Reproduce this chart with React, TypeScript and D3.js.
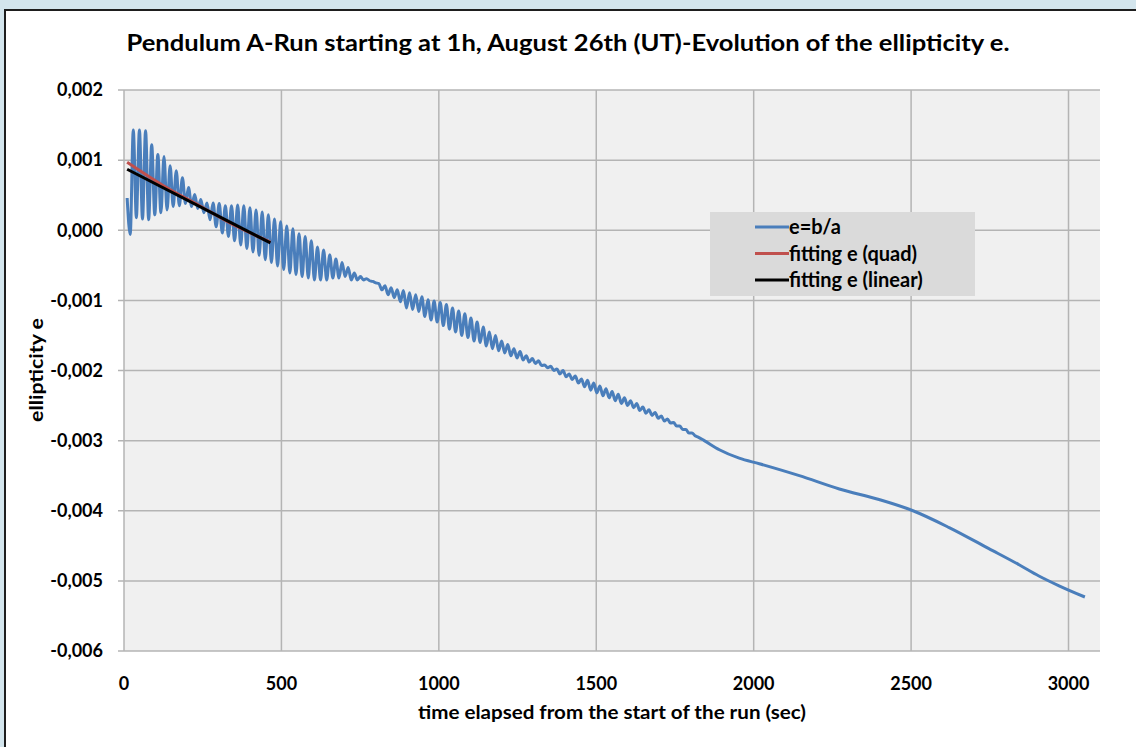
import React from 'react';
import * as d3 from 'd3';

const W = 1136;
const H = 747;

// e = b/a read every half swing (~9.75 s) from t = 10 s, in units of 1e-5
const oscStart = 10;
const oscStep = 9.75;
const oscE = [
  46, -6, 143, 18, 143, 16, 142, 15, 122, 22, 108, 25, 105, 29, 92, 34, 85, 35, 75, 38,
  61, 34, 51, 31, 44, 25, 39, 15, 39, 5, 38, -4, 35, -9, 35, -15, 36, -21, 35, -26,
  32, -31, 29, -36, 26, -42, 22, -46, 16, -51, 12, -56, 6, -61, 2, -63, -5, -66, -9, -68,
  -15, -71, -24, -71, -28, -71, -35, -68, -41, -68, -46, -66, -53, -71, -61, -71, -66, -71, -69, -72,
  -73, -75, -76, -85, -79, -92, -82, -96, -85, -102, -86, -111, -89, -113, -92, -116, -95, -123, -99, -128,
  -101, -131, -103, -136, -106, -141, -111, -145, -115, -150, -119, -153, -125, -158, -131, -160, -138, -165, -145, -169,
  -150, -172, -158, -175, -163, -179, -169, -182, -173, -185, -179, -188, -183, -190, -186, -193, -192, -196, -194, -200,
  -198, -205, -200, -209, -205, -213, -208, -218, -212, -223, -214, -228, -218, -232, -222, -236, -226, -239, -230, -243,
  -234, -247, -239, -250, -243, -253, -247, -257, -252, -261, -256, -264, -260, -268, -265, -272, -269, -275, -274, -279,
  -279, -284, -284, -289, -289, -293, -295,
];

// smoother second half of the run: time (sec) and e (1e-5)
const tailT = [1843, 1891, 1954, 2018, 2145, 2272, 2398, 2506, 2621, 2747, 2843, 2906, 2970, 3052];
const tailE = [-300, -313, -325, -333, -350, -369, -384, -400, -424, -454, -477, -493, -507, -523];

// fits over the first 465 s
const quadT = [10, 120, 240, 360, 465];
const quadE = [0.00097, 0.00065, 0.00035, 0.00005, -0.00017];
const linT = [10, 465];
const linE = [0.00087, -0.00018];

const xTicks = [0, 500, 1000, 1500, 2000, 2500, 3000];
const yTicks = [0.002, 0.001, 0, -0.001, -0.002, -0.003, -0.004, -0.005, -0.006];

const legendNames = ['e=b/a', 'fitting e (quad)', 'fitting e (linear)'];
const colors = ['#4a7ebb', '#c0504d', '#000000'];

const font = 'Lato, "Open Sans", sans-serif';

const locale = d3.formatLocale({ decimal: ',', thousands: '.', grouping: [3], currency: ['', ''], minus: '-' });
const fmtY = locale.format('.3f');

type Pt = [number, number];

export default function App() {
  const left = 124, right = 1100, top = 90, bottom = 651;
  const x = d3.scaleLinear().domain([0, 3100]).range([left, right]);
  const y = d3.scaleLinear().domain([-0.006, 0.002]).range([bottom, top]);

  const blue: Pt[] = oscE.map((v, i) => [oscStart + i * oscStep, v * 1e-5] as Pt)
    .concat(tailT.map((t, i) => [t, tailE[i] * 1e-5] as Pt));
  const quad: Pt[] = quadT.map((t, i) => [t, quadE[i]]);
  const lin: Pt[] = linT.map((t, i) => [t, linE[i]]);

  const line = d3.line<Pt>().x(d => x(d[0])).y(d => y(d[1])).curve(d3.curveMonotoneX);

  return (
    <div style={{ position: 'fixed', left: 0, top: 0 }}>
      <svg width={W} height={H} style={{ display: 'block' }}>
        <rect x={0} y={0} width={W} height={H} fill="#d3e5ed" />
        <rect x={5} y={10} width={W + 20} height={H + 20} fill="#ffffff" stroke="#1e1e1e" strokeWidth={2} />

        <text x={568} y={51} textAnchor="middle" fontFamily={font} fontWeight="bold" fontSize={23}
          textLength={883} lengthAdjust="spacingAndGlyphs" fill="#000">
          Pendulum A-Run starting at 1h, August 26th (UT)-Evolution of the ellipticity e.
        </text>

        <rect x={left} y={top} width={right - left} height={bottom - top} fill="#f0f0f0" />

        {yTicks.map(t => (
          <g key={'y' + t}>
            <line x1={left - 6} x2={right} y1={y(t)} y2={y(t)} stroke="#b4b4b4" strokeWidth={1.5} />
            <text x={103} y={y(t)} dy="0.35em" textAnchor="end" fontFamily={font} fontWeight="bold" fontSize={18}>
              {fmtY(t)}
            </text>
          </g>
        ))}
        {xTicks.map(t => (
          <g key={'x' + t}>
            <line x1={x(t)} x2={x(t)} y1={top} y2={bottom} stroke="#b4b4b4" strokeWidth={1.5} />
            <text x={x(t)} y={690} textAnchor="middle" fontFamily={font} fontWeight="bold" fontSize={18}>
              {t}
            </text>
          </g>
        ))}

        <path d={line(blue) ?? ''} fill="none" stroke={colors[0]} strokeWidth={3} strokeLinejoin="round" />
        <path d={line(quad) ?? ''} fill="none" stroke={colors[1]} strokeWidth={3} />
        <path d={line(lin) ?? ''} fill="none" stroke={colors[2]} strokeWidth={3} />

        <text x={612} y={719} textAnchor="middle" fontFamily={font} fontWeight="bold" fontSize={19}
          textLength={388} lengthAdjust="spacingAndGlyphs">
          time elapsed from the start of the run (sec)
        </text>
        <text transform="translate(43,370) rotate(-90)" textAnchor="middle" fontFamily={font} fontWeight="bold" fontSize={18}
          textLength={104} lengthAdjust="spacingAndGlyphs">
          ellipticity e
        </text>

        <g transform="translate(710,212)">
          <rect x={0} y={0} width={265} height={84} fill="#dadada" />
          {legendNames.map((n, i) => (
            <g key={n} transform={`translate(0,${15 + i * 26.5})`}>
              <line x1={45} x2={79} y1={0} y2={0} stroke={colors[i]} strokeWidth={3} />
              <text x={79} y={0} dy="0.35em" fontFamily={font} fontWeight="bold" fontSize={20}>{n}</text>
            </g>
          ))}
        </g>
      </svg>
    </div>
  );
}
